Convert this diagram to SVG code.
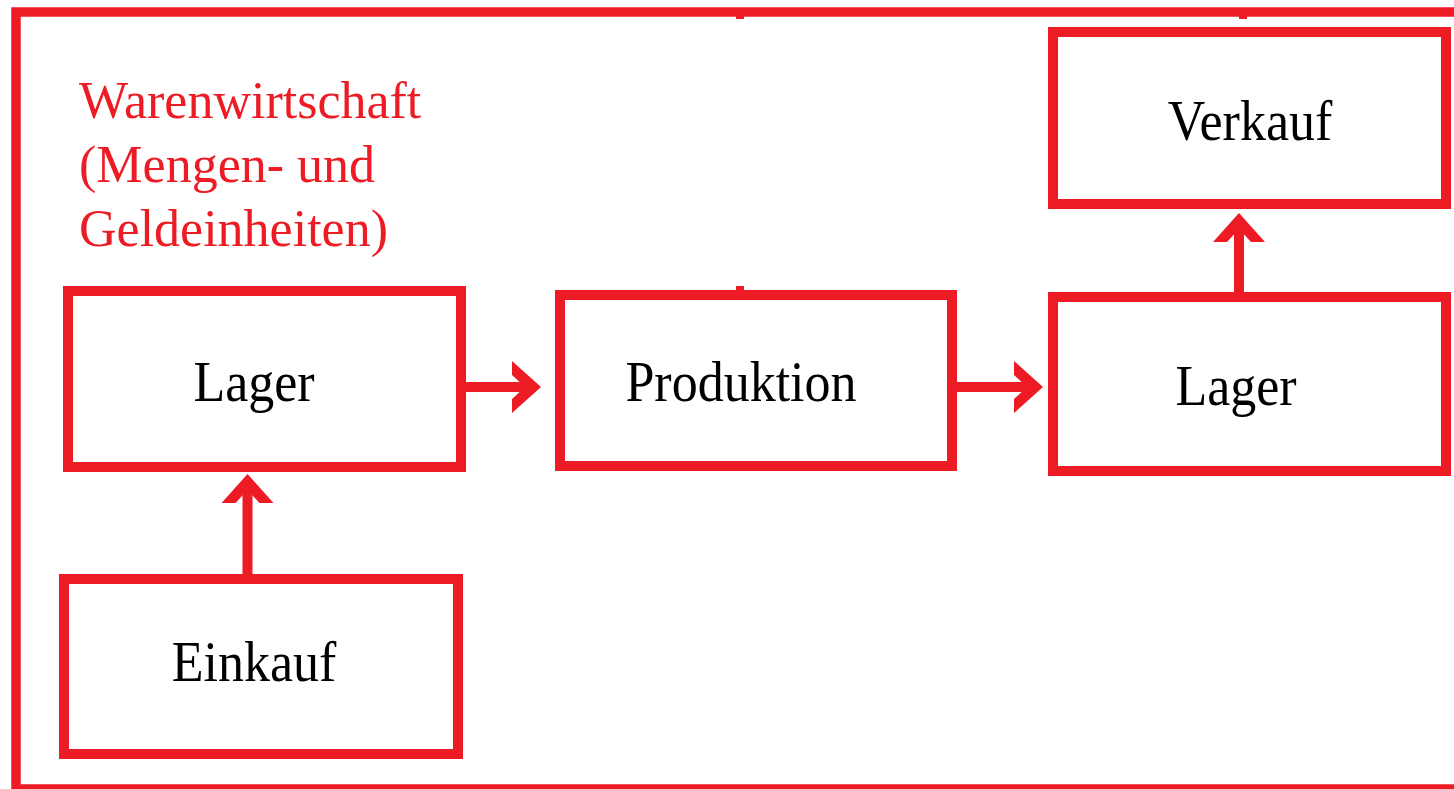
<svg xmlns="http://www.w3.org/2000/svg" width="1454" height="789" viewBox="0 0 1454 789">
  <style>
    .frame { fill: none; stroke: #ED1C24; stroke-width: 9.5; }
    .box { fill: #FFFFFF; stroke: #ED1C24; stroke-width: 10; }
    .label { font-family: "Liberation Serif", "Times New Roman", serif; font-size: 52px; fill: #000000; text-anchor: middle; }
    .title { font-family: "Liberation Serif", "Times New Roman", serif; font-size: 52px; fill: #ED1C24; }
    .conn { stroke: #ED1C24; stroke-width: 10; fill: none; marker-end: url(#arrow); }
    .tick { fill: #ED1C24; }
  </style>
  <defs>
    <marker id="arrow" markerUnits="userSpaceOnUse" viewBox="-30 -27 41 54" refX="-10" refY="0" markerWidth="41" markerHeight="54" orient="auto" overflow="visible">
      <polygon points="0,0 -29,-26 -29,-12 -16,0 -29,12 -29,26" fill="#ED1C24"/>
    </marker>
  </defs>
  <rect width="1454" height="789" fill="#FFFFFF"/>

  <g id="frame">
    <rect class="frame" x="16" y="12" width="1500" height="777"/>
    <rect class="tick" x="736" y="15" width="8" height="4"/>
    <rect class="tick" x="1239" y="15" width="8" height="4"/>
    <rect class="tick" x="736" y="286" width="8" height="5"/>
    <text class="title" x="79" y="118">Warenwirtschaft</text>
    <text class="title" x="79" y="182">(Mengen- und</text>
    <text class="title" x="79" y="246">Geldeinheiten)</text>
  </g>

  <g id="connectors">
    <line class="conn" x1="466" y1="387" x2="531" y2="387"/>
    <line class="conn" x1="957" y1="387" x2="1033" y2="387"/>
    <line class="conn" x1="247.5" y1="574" x2="247.5" y2="484"/>
    <line class="conn" x1="1239" y1="292" x2="1239" y2="223"/>
  </g>

  <g id="lager-links">
    <rect class="box" x="68" y="291" width="393" height="176"/>
    <text class="label" transform="translate(254,401) scale(1,1.1)">Lager</text>
  </g>

  <g id="einkauf">
    <rect class="box" x="64" y="579" width="394" height="175"/>
    <text class="label" transform="translate(254,681) scale(1,1.1)">Einkauf</text>
  </g>

  <g id="produktion">
    <rect class="box" x="560" y="295" width="392" height="171"/>
    <text class="label" transform="translate(741,401) scale(1,1.1)">Produktion</text>
  </g>

  <g id="lager-rechts">
    <rect class="box" x="1053" y="297" width="393" height="174"/>
    <text class="label" transform="translate(1236,405) scale(1,1.1)">Lager</text>
  </g>

  <g id="verkauf">
    <rect class="box" x="1053" y="32" width="393" height="172"/>
    <text class="label" transform="translate(1250,140) scale(1,1.1)">Verkauf</text>
  </g>
</svg>
